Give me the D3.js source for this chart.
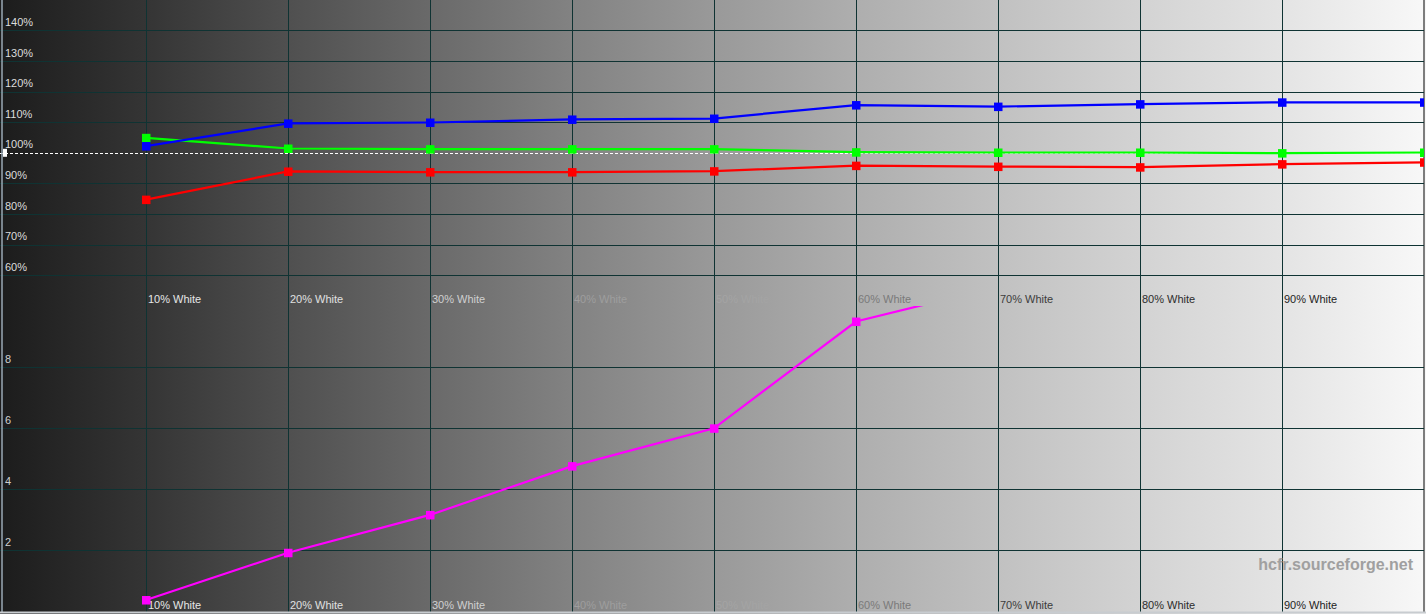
<!DOCTYPE html>
<html><head><meta charset="utf-8">
<script src="https://cdn.jsdelivr.net/npm/d3@7"></script>
<style>html,body{margin:0;padding:0;background:#f0f0f0;overflow:hidden}svg{display:block}</style>
</head><body>
<script>
// ---- data ----
const levels = [10, 20, 30, 40, 50, 60, 70, 80, 90, 100];
const xLabels = ["10% White","20% White","30% White","40% White","50% White","60% White","70% White","80% White","90% White"];
const redValues   = [84.7, 93.9, 93.7, 93.7, 94.0, 95.8, 95.5, 95.3, 96.3, 96.9];
const greenValues = [104.9, 101.4, 101.2, 101.2, 101.2, 100.2, 100.1, 100.1, 99.9, 100.1];
const blueValues  = [102.2, 109.6, 109.9, 110.9, 111.2, 115.6, 115.1, 115.9, 116.5, 116.5];
const deltaELevels = [10, 20, 30, 40, 50, 60, 70];
const deltaEValues = [0.36, 1.91, 3.15, 4.75, 5.99, 9.49, 10.64];
const pctTicks = [60, 70, 80, 90, 100, 110, 120, 130, 140];
const deTicks = [2, 4, 6, 8];

const W = 1426, H = 614;
const svg = d3.select("body").append("svg").attr("width", W).attr("height", H);
const defs = svg.append("defs");

// background gradient
const grad = defs.append("linearGradient").attr("id","bg").attr("x1","0").attr("x2","1").attr("y1","0").attr("y2","0");
const bgStops = [[0,"#1c1c1c"],[0.1,"#343434"],[0.2,"#4f4f4f"],[0.3,"#696969"],[0.4,"#828282"],[0.5,"#999999"],[0.6,"#aeaeae"],[0.7,"#c1c1c1"],[0.8,"#d3d3d3"],[0.9,"#e4e4e4"],[1,"#f8f8f8"]];
bgStops.forEach(s => grad.append("stop").attr("offset", s[0]).attr("stop-color", s[1]));
svg.append("rect").attr("x",0).attr("y",0).attr("width",W).attr("height",H).attr("fill","url(#bg)");

// scales
const x = d3.scaleLinear().domain([10, 100]).range([146, 1424]);
const yTop = d3.scaleLinear().domain([60, 140]).range([275.2, 30.4]);
const yBot = d3.scaleLinear().domain([0, 10]).range([611, 306]);

const gridColor = "#0f3333";
const font = "'Liberation Sans', Arial, sans-serif";

// clip paths
defs.append("clipPath").attr("id","clipTop").append("rect").attr("x",0).attr("y",0).attr("width",1424).attr("height",291);
defs.append("clipPath").attr("id","clipBot").append("rect").attr("x",0).attr("y",306).attr("width",1424).attr("height",306);

// vertical grid lines (both panels)
const vLevels = levels.slice(0, 9);
svg.append("g").selectAll("line").data(vLevels).join("line")
  .attr("x1", d => x(d) + 0.5).attr("x2", d => x(d) + 0.5).attr("y1", 0).attr("y2", 612)
  .attr("stroke", gridColor).attr("stroke-width", 1);
svg.append("line").attr("x1", x(100)).attr("x2", x(100)).attr("y1", 0).attr("y2", 612)
  .attr("stroke", "#555").attr("stroke-width", 1.5);

// top horizontal grid
svg.append("g").selectAll("line").data(pctTicks.filter(d => d !== 100)).join("line")
  .attr("x1", 0).attr("x2", x(100)).attr("y1", d => Math.round(yTop(d)) + 0.5).attr("y2", d => Math.round(yTop(d)) + 0.5)
  .attr("stroke", gridColor).attr("stroke-width", 1);
// bottom horizontal grid
svg.append("g").selectAll("line").data(deTicks).join("line")
  .attr("x1", 0).attr("x2", x(100)).attr("y1", d => Math.round(yBot(d)) + 0.5).attr("y2", d => Math.round(yBot(d)) + 0.5)
  .attr("stroke", gridColor).attr("stroke-width", 1);

// y axis labels using d3 axis then styled
const topAxis = svg.append("g").attr("transform","translate(5,0)")
  .call(d3.axisRight(yTop).tickValues(pctTicks).tickSize(0).tickFormat(d => d + "%"));
topAxis.select(".domain").remove();
topAxis.selectAll("text").attr("x", 0).attr("dy", "-0.45em").attr("text-anchor","start")
  .attr("fill","#dcdcdc").style("font-family", font).style("font-size","11px");

const botAxis = svg.append("g").attr("transform","translate(5,0)")
  .call(d3.axisRight(yBot).tickValues(deTicks).tickSize(0).tickFormat(d3.format("d")));
botAxis.select(".domain").remove();
botAxis.selectAll("text").attr("x", 0).attr("dy", "-0.45em").attr("text-anchor","start")
  .attr("fill","#cfcfcf").style("font-family", font).style("font-size","11px");

// x labels (top and bottom), colour per background position
const labelColor = d3.scaleLinear().domain([10, 20, 30, 40, 50, 60, 70, 80, 90])
  .range(["#e6e6e6","#e0e0e0","#d0d0d0","#9e9e9e","#a4a4a4","#7a7a7a","#3c3c3c","#2c2c2c","#1e1e1e"]);
[303, 609].forEach(yy => {
  svg.append("g").selectAll("text").data(xLabels).join("text")
    .attr("x", (d, i) => x(levels[i]) + 2).attr("y", yy)
    .attr("fill", (d, i) => labelColor(levels[i]))
    .style("font-family", font).style("font-size", "11px")
    .text(d => d);
});

// reference 100% dashed line
svg.append("line").attr("x1", 0).attr("x2", x(100)).attr("y1", Math.round(yTop(100)) + 0.5).attr("y2", Math.round(yTop(100)) + 0.5)
  .attr("stroke", "#ffffff").attr("stroke-width", 1).attr("stroke-dasharray", "3,2");
svg.append("rect").attr("x", 3).attr("y", yTop(100) - 4).attr("width", 4).attr("height", 8).attr("fill", "#ffffff");

// left edge line
svg.append("line").attr("x1", 2).attr("x2", 2).attr("y1", 0).attr("y2", 612).attr("stroke", "#9aa8b4").attr("stroke-width", 1.5);
// bottom edge
svg.append("line").attr("x1", 0).attr("x2", W).attr("y1", 612.5).attr("y2", 612.5).attr("stroke", "#c8ccd0").attr("stroke-width", 2);

// series
function drawSeries(xs, vals, yScale, color, clip) {
  const grp = svg.append("g").attr("clip-path", "url(#" + clip + ")");
  const pts = xs.map((l, i) => [x(l), yScale(vals[i])]);
  grp.append("path").attr("d", d3.line()(pts)).attr("fill", "none")
    .attr("stroke", color).attr("stroke-width", 2.2);
  grp.selectAll("rect").data(pts).join("rect")
    .attr("x", d => d[0] - 4).attr("y", d => d[1] - 4).attr("width", 8.5).attr("height", 8.5)
    .attr("fill", color);
}
drawSeries(levels, greenValues, yTop, "#00ff00", "clipTop");
drawSeries(levels, redValues, yTop, "#ff0000", "clipTop");
drawSeries(levels, blueValues, yTop, "#0000ff", "clipTop");
drawSeries(deltaELevels, deltaEValues, yBot, "#ff00ff", "clipBot");

// watermark
svg.append("text").attr("x", 1413).attr("y", 570).attr("text-anchor", "end")
  .attr("fill", "#a0a0a0").style("font-family", font).style("font-size", "16px").style("font-weight", "bold")
  .text("hcfr.sourceforge.net");
</script>
</body></html>
